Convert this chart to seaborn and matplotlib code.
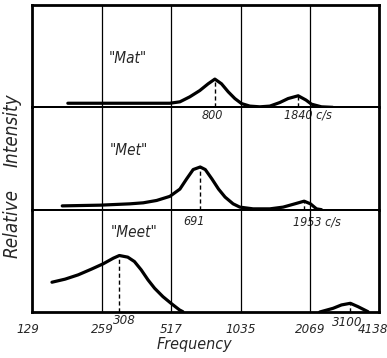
import numpy as np
import pandas as pd
import matplotlib
matplotlib.use("Agg")
import matplotlib.pyplot as plt
import seaborn as sns

# ---------------- data ----------------
tick_freqs = [129, 259, 517, 1035, 2069, 4138]
tick_labels = ["129", "259", "517", "1035", "2069", "4138"]
grid_freqs = [259, 517, 1035, 2069]

mat_freq = [184, 378, 510, 564, 623, 688, 748, 800, 855, 914, 977, 1044,
            1135, 1254, 1386, 1531, 1664, 1840, 1990, 2101, 2322, 2600]
mat_int = [4.0, 4.0, 4.0, 5.4, 10.3, 16.4, 23.0, 27.6, 23.0, 15.2, 8.6, 3.7,
           1.2, 0.5, 1.2, 4.7, 8.6, 11.3, 7.1, 3.1, 0.5, 0.0]
mat_peaks = [800, 1840]
mat_peak_int = [27.6, 11.3]

met_freq = [174, 254, 342, 391, 447, 510, 564, 603, 644, 691, 727, 777,
            830, 886, 960, 1027, 1172, 1386, 1583, 1779, 1953, 2080, 2209, 2322]
met_int = [3.7, 4.4, 5.7, 6.7, 9.0, 13.0, 20.1, 30.0, 39.2, 41.7, 39.2, 30.0,
           20.1, 12.3, 5.7, 2.5, 0.8, 0.8, 2.5, 5.7, 8.3, 5.7, 0.8, 0.0]
met_peaks = [691, 1953]
met_peak_int = [41.7, 8.3]

meet_freq = [157, 179, 204, 233, 262, 290, 308, 335, 358, 383, 410, 438,
             476, 516, 562, 581]
meet_int = [29.1, 32.1, 36.3, 41.9, 47.1, 52.6, 55.2, 53.6, 49.3, 41.2, 31.4,
            23.2, 15.0, 8.5, 2.0, 0.3]
meet2_freq = [2283, 2608, 2836, 3100, 3347, 3697]
meet2_int = [0.0, 3.6, 6.9, 8.5, 5.2, 0.3]
meet_peaks = [308, 3100]
meet_peak_int = [55.2, 8.5]

panel_names = ['"Mat"', '"Met"', '"Meet"']

# ---------------- style ----------------
sns.set_style("white")
FONT = ["DejaVu Sans"]
plt.rcParams["font.family"] = FONT
plt.rcParams["font.style"] = "italic"
plt.rcParams["font.stretch"] = "condensed"

fig = plt.figure(figsize=(3.87, 3.58), dpi=100)
gs = fig.add_gridspec(3, 1, left=0.0835, right=0.980, top=0.986,
                      bottom=0.1285, hspace=0)
axes = [fig.add_subplot(gs[i]) for i in range(3)]

curves = [
    [(mat_freq, mat_int)],
    [(met_freq, met_int)],
    [(meet_freq, meet_int), (meet2_freq, meet2_int)],
]
peaks = [(mat_peaks, mat_peak_int), (met_peaks, met_peak_int),
         (meet_peaks, meet_peak_int)]
name_pos = [(335, 47.5), (338, 58), (357, 77.5)]

for ax, segs, (pf, pi), name, (nx, ny) in zip(axes, curves, peaks,
                                                panel_names, name_pos):
    ax.set_facecolor("none")
    ax.set_xscale("log", base=2)
    for f, v in segs:
        df = pd.DataFrame({"freq": f, "intensity": v})
        sns.lineplot(data=df, x="freq", y="intensity", ax=ax, color="black",
                     lw=2.3, sort=False, estimator=None, zorder=4)
    ax.vlines(pf, 0, pi, colors="black", lw=1.0, linestyles=(0, (3, 2)),
              zorder=3)
    for g in grid_freqs:
        ax.axvline(g, color="black", lw=0.9, zorder=2)
    ax.set_xlim(129, 4138)
    ax.set_ylim(0, 100)
    ax.set_yticks([])
    ax.set_xlabel("")
    ax.set_ylabel("")
    for s in ax.spines.values():
        s.set_visible(True)
        s.set_color("black")
        s.set_linewidth(1.4)
    ax.text(nx, ny, name, ha="center", va="center", fontsize=11,
            family=FONT, style="italic")

for ax in axes[:2]:
    ax.set_xticks([])
    ax.minorticks_off()

# outer frame a bit heavier
axes[0].spines["top"].set_linewidth(2.0)
for ax in axes:
    ax.spines["left"].set_linewidth(2.0)
    ax.spines["right"].set_linewidth(2.0)
axes[2].spines["bottom"].set_linewidth(2.0)

ax = axes[2]
ax.set_xticks(tick_freqs[1:-1])
ax.set_xticklabels(tick_labels[1:-1])
ax.minorticks_off()
ax.tick_params(axis="x", length=0, pad=8, labelsize=9.5)
for lab in ax.get_xticklabels():
    lab.set_style("italic")


def plabel(ax, x, txt, dx_px, dy_px, ha="center", va="center", size=9):
    ax.annotate(txt, xy=(x, 0), xytext=(dx_px * 0.72, dy_px * 0.72),
                textcoords="offset points", ha=ha, va=va,
                fontsize=size, family=FONT, style="italic",
                annotation_clip=False, zorder=5)


# end tick labels, nudged inward like the reference
plabel(ax, tick_freqs[0], tick_labels[0], -4, -11.1, va="top", size=9.5)
plabel(ax, tick_freqs[-1], tick_labels[-1], -6, -11.1, va="top", size=9.5)

# peak labels under each baseline
plabel(axes[0], mat_peaks[0], "800", -3, -8)
plabel(axes[0], mat_peaks[1], "1840 c/s", -14, -8, ha="left")
plabel(axes[1], met_peaks[0], "691", -6, -12)
plabel(axes[1], met_peaks[1], "1953 c/s", -11, -12, ha="left")
plabel(axes[2], meet_peaks[0], "308", 5, -9, size=9.5)
plabel(axes[2], meet_peaks[1], "3100", -3, -11, size=9.5)

fig.text(194 / 387, 1 - 344 / 358, "Frequency", ha="center", va="center",
         fontsize=11.5, family=FONT, style="italic")
fig.text(12 / 387, 1 - 224 / 358, "Relative", ha="center",
         va="center", rotation=90, fontsize=13.5, family=FONT,
         style="italic")
fig.text(12 / 387, 1 - 130 / 358, "Intensity", ha="center",
         va="center", rotation=90, fontsize=13.5, family=FONT,
         style="italic")

fig.savefig("out.png", dpi=100)
